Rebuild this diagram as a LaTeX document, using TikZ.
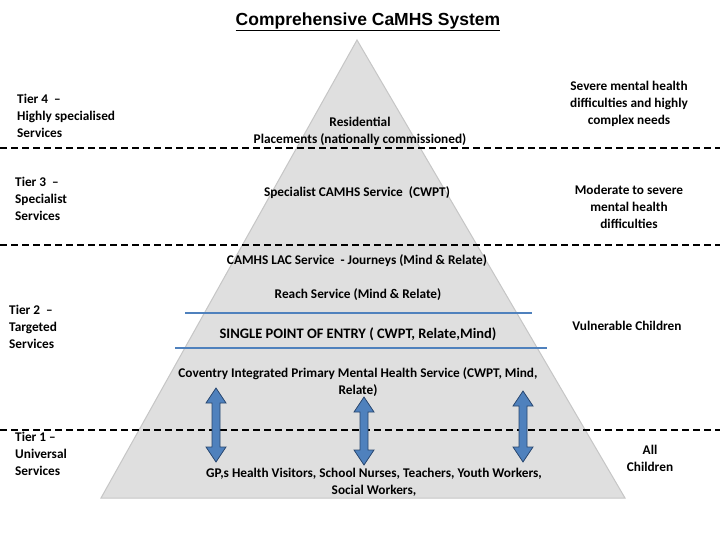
\documentclass[tikz,border=0pt]{standalone}
\usepackage{fontspec}
\setmainfont{Carlito}
\newfontfamily\titlefont{Liberation Sans}
\begin{document}
\begin{tikzpicture}[x=1pt,y=-1pt,
  txt/.style={font=\bfseries\fontsize{13.3}{17}\selectfont, align=center, inner sep=0pt},
  lft/.style={font=\bfseries\fontsize{13.3}{17}\selectfont, align=left, anchor=north west, inner sep=0pt},
  tier/.style={line width=2.4pt, dash pattern=on 7pt off 4pt},
  darr/.style={fill={rgb,255:red,79;green,129;blue,189}, draw={rgb,255:red,40;green,70;blue,110}, line width=0.8pt}]
\useasboundingbox (0,0) rectangle (720,540);
\fill[white] (0,0) rectangle (720,540);
% pyramid
\fill[gray!25] (357,40) -- (625,498) -- (101,498) -- cycle;
\draw[gray!45, line width=1pt] (357,40) -- (625,498) -- (101,498) -- cycle;
% tier dividers
\draw[tier] (0,148) -- (720,148);
\draw[tier] (0,245) -- (720,245);
\draw[tier] (0,430) -- (720,430);
% title
\node[inner sep=0pt, font=\titlefont\bfseries\fontsize{17.5}{20}\selectfont] (title) at (368,22) {\underline{Comprehensive CaMHS System}};
% left labels
\node[lft] (t4) at (17,94) {Tier 4 \ --\\Highly specialised\\Services};
\node[lft] (t3) at (15,177) {Tier 3 \ --\\Specialist\\Services};
\node[lft] (t2) at (9,305) {Tier 2 \ --\\Targeted\\Services};
\node[lft] (t1) at (15,432) {Tier 1 --\\Universal\\Services};
% right labels
\node[txt] (r4) at (629,104) {Severe mental health\\difficulties and highly\\complex needs};
\node[txt] (r3) at (629,207) {Moderate to severe\\mental health\\difficulties};
\node[txt] (r2) at (627,326) {Vulnerable Children};
\node[txt] (r1) at (650,458) {All\\Children};
% inner labels
\node[txt] (res) at (360,131) {Residential\\Placements (nationally commissioned)};
\node[txt] (spec) at (357,193) {Specialist CAMHS Service \ (CWPT)};
\node[txt] (lac) at (357,261) {CAMHS LAC Service \ - Journeys (Mind \& Relate)};
\node[txt] (reach) at (358,295) {Reach Service (Mind \& Relate)};
\node[txt, font=\bfseries\fontsize{14.5}{17}\selectfont] (spoe) at (358,334) {SINGLE POINT OF ENTRY ( CWPT, Relate,Mind)};
\node[txt] (cov) at (358,382) {Coventry Integrated Primary Mental Health Service (CWPT, Mind,\\Relate)};
\node[txt] (gp) at (374,482) {GP,s Health Visitors, School Nurses, Teachers, Youth Workers,\\Social Workers,};
% blue lines
\draw[line width=2.5pt, color={rgb,255:red,79;green,129;blue,189}] (185,313) -- (532,313);
\draw[line width=2.5pt, color={rgb,255:red,79;green,129;blue,189}] (175,348) -- (547,348);
% double arrows
\foreach \x/\a/\b in {216/388/462, 364/397/465, 523/391/462}{
  \draw[darr] (\x,\a) -- (\x+10,\a+15) -- (\x+4,\a+15) -- (\x+4,\b-15) -- (\x+10,\b-15) -- (\x,\b)
    -- (\x-10,\b-15) -- (\x-4,\b-15) -- (\x-4,\a+15) -- (\x-10,\a+15) -- cycle;
}
\end{tikzpicture}
\end{document}
